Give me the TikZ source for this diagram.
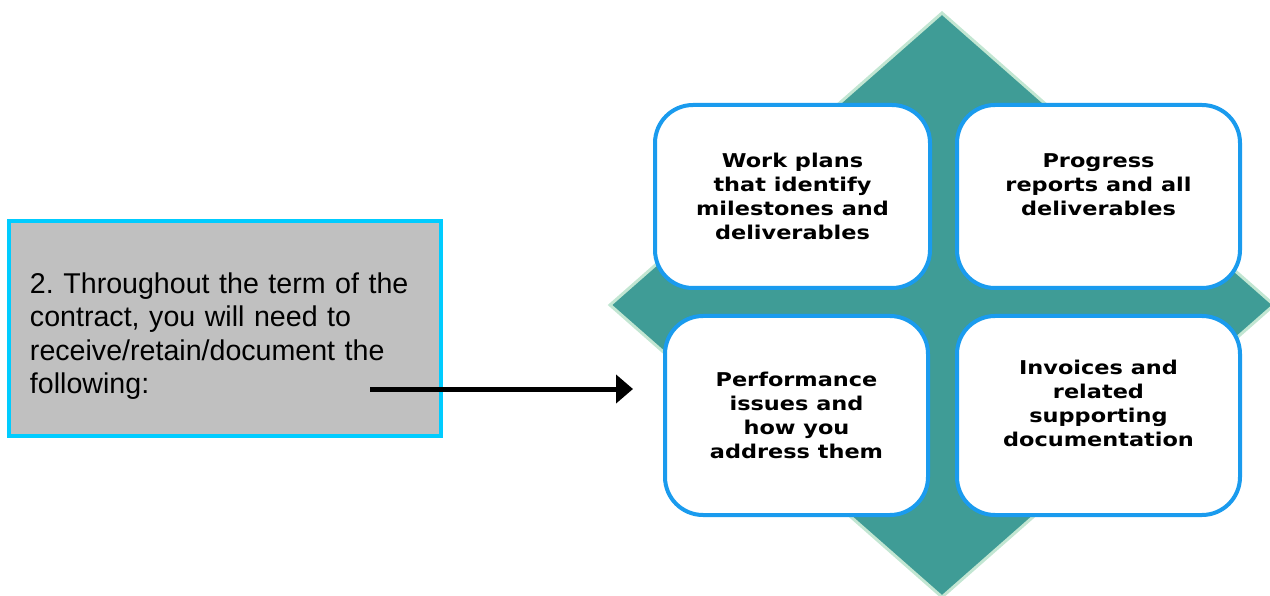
\documentclass[tikz,border=0pt]{standalone}
\usepackage{fontspec}
\setmainfont{Liberation Sans}
\newfontfamily\itemfont{DejaVu Sans}[FakeStretch=1.18]
\usetikzlibrary{arrows.meta}
\definecolor{diamondteal}{HTML}{3F9C96}
\definecolor{diamondedge}{HTML}{C2E6D2}
\definecolor{itemblue}{HTML}{1A9BEE}
\definecolor{boxcyan}{HTML}{00CCFF}
\definecolor{boxgray}{HTML}{C0C0C0}
\frenchspacing
\tikzset{
  leftbox/.style={draw=boxcyan, line width=4pt, fill=boxgray, inner sep=0pt,
    text width=390pt, text height=36pt, align=left, font=\fontsize{28.6}{33.5}\selectfont},
  item/.style={draw=itemblue, line width=4pt, fill=white, rounded corners=38pt,
    inner sep=0pt, align=center, font=\itemfont\bfseries\fontsize{19}{24}\selectfont},
}
\begin{document}
\begin{tikzpicture}[x=1pt, y=-1pt]
    \useasboundingbox (0,0) rectangle (1270,596);
    \draw[draw=diamondedge, line width=3pt, fill=diamondteal] (942,13) -- (1274,305) -- (942,597) -- (610,305) -- cycle;
    \node[item, minimum width=275pt, minimum height=183pt] (plans) at (792.5,196.5) {Work plans\\that identify\\milestones and\\deliverables};
    \node[item, minimum width=283pt, minimum height=183pt] (reports) at (1098.5,196.5) {Progress\\reports and all\\deliverables\\\mbox{}};
    \node[item, minimum width=263pt, minimum height=199pt] (issues) at (796.5,415.5) {Performance\\issues and\\how you\\address them};
    \node[item, minimum width=283pt, minimum height=199pt] (invoices) at (1098.5,415.5) {Invoices and\\related\\supporting\\documentation\\\mbox{}};
    \node[leftbox, minimum width=432pt, minimum height=215pt] (intro) at (225,328.5) {2. Throughout the term of the\\contract, you will need to\\receive/retain/document the\\following:};
    \coordinate (from) at (370,389);
    \coordinate (to) at (633,389);
    \draw[line width=5pt, -{Triangle[length=17pt, width=28pt]}] (from) -- (to);
\end{tikzpicture}
\end{document}
